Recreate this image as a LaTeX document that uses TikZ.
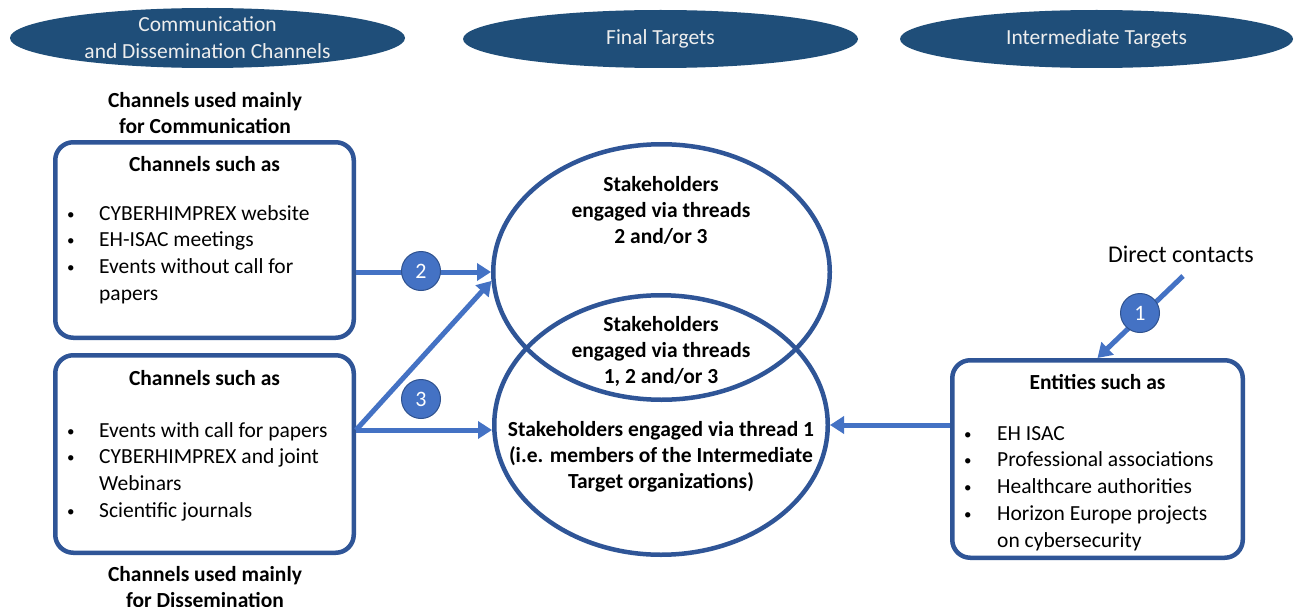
\documentclass[tikz,border=0pt]{standalone}
\usepackage{fontspec}
\setmainfont{Carlito}
\usetikzlibrary{arrows.meta,shapes.geometric}
\definecolor{hdr}{RGB}{31,78,121}
\definecolor{edgeblue}{RGB}{47,85,151}
\definecolor{arrblue}{RGB}{68,114,196}
\definecolor{numedge}{RGB}{47,82,143}
\definecolor{hdrtext}{RGB}{238,238,238}
\newcommand{\bul}{\raisebox{1pt}{\fontsize{15}{15}\selectfont\textbullet}}
\begin{document}
\begin{tikzpicture}[x=1pt,y=-1pt,
 hdrell/.style={ellipse, fill=hdr, inner sep=0pt, text=hdrtext, align=center, font=\fontsize{21.5}{27}\selectfont},
 box/.style={draw=edgeblue, line width=4.5pt, rounded corners=18pt, fill=white, inner sep=0pt},
 ring/.style={ellipse, draw=edgeblue, line width=4.5pt, inner sep=0pt},
 lbl/.style={align=center, font=\fontsize{21.5}{26}\selectfont\bfseries, inner sep=0pt},
 body/.style={anchor=base west, inner sep=0pt, font=\fontsize{21.5}{26.8}\selectfont},
 conn/.style={draw=arrblue, line width=5pt, -{Triangle[length=14pt,width=17pt]}},
 num/.style={circle, fill=arrblue, draw=numedge, line width=1pt, minimum size=39pt, inner sep=0pt, text=white, font=\fontsize{22}{26}\selectfont}]
\useasboundingbox[fill=white] (0,0) rectangle (1297,607);

% header ellipses
\node[hdrell, minimum width=395pt, minimum height=60pt] (h1) at (207.5,38) {Communication\\and Dissemination Channels};
\node[hdrell, minimum width=395pt, minimum height=58pt] (h2) at (660.5,39) {Final Targets};
\node[hdrell, minimum width=393pt, minimum height=58pt] (h3) at (1096.5,39) {Intermediate Targets};

% side labels
\node[lbl] (lcomm) at (205,113) {Channels used mainly\\for Communication};
\node[lbl] (ldiss) at (205,587) {Channels used mainly\\for Dissemination};

% boxes
\node[box, minimum width=298.5pt, minimum height=195.5pt] (box1) at (204.5,240) {};
\node[box, minimum width=298.5pt, minimum height=197.5pt] (box2) at (204.5,454) {};
\node[box, minimum width=290.5pt, minimum height=197.5pt] (box3) at (1097.5,459) {};

\node[lbl] (t1) at (204.5,164) {Channels such as};
\node[body] (list1) at (67,220) {\begin{tabular}[t]{@{}p{32pt}@{}l@{}}
\bul & CYBERHIMPREX website\\
\bul & EH-ISAC meetings\\
\bul & Events without call for\\
 & papers
\end{tabular}};

\node[lbl] (t2) at (204.5,378) {Channels such as};
\node[body] (list2) at (67,437) {\begin{tabular}[t]{@{}p{32pt}@{}l@{}}
\bul & Events with call for papers\\
\bul & CYBERHIMPREX and joint\\
 & Webinars\\
\bul & Scientific journals
\end{tabular}};

\node[lbl] (t3) at (1097.5,382) {Entities such as};
\node[body] (list3) at (964,440) {\begin{tabular}[t]{@{}p{33pt}@{}l@{}}
\bul & EH ISAC\\
\bul & Professional associations\\
\bul & Healthcare authorities\\
\bul & Horizon Europe projects\\
 & on cybersecurity
\end{tabular}};

% target ellipses
\node[ring, minimum width=336.5pt, minimum height=255.5pt] (upper) at (661.5,272) {};
\node[ring, minimum width=333.5pt, minimum height=259.5pt] (lower) at (661,425) {};

\node[lbl] (tu) at (661,210) {Stakeholders\\engaged via threads\\2 and/or 3};
\node[lbl] (tm) at (661,351) {Stakeholders\\engaged via threads\\1, 2 and/or 3};
\node[lbl] (tl) at (661,457) {Stakeholders engaged via thread 1\\(i.e. members of the Intermediate\\Target organizations)};

% direct contacts
\node[inner sep=0pt, font=\fontsize{24}{29}\selectfont] (dc) at (1181,254) {Direct contacts};
\coordinate (dcs) at (1183,276);
\coordinate (s3) at (356,430);

% connectors
\draw[conn] (box1.east |- upper.west) -- (upper.west);
\draw[conn] (s3) -- (s3 -| lower.west);
\draw[conn] (s3) -- (upper.183);
\draw[conn] (box3.west |- lower.east) -- (lower.east);
\draw[conn] (dcs) -- (box3.north);

% number badges
\node[num] (n2) at (421,271) {2};
\node[num] (n3) at (421,399) {3};
\node[num] (n1) at (1140,313) {1};
\end{tikzpicture}
\end{document}
